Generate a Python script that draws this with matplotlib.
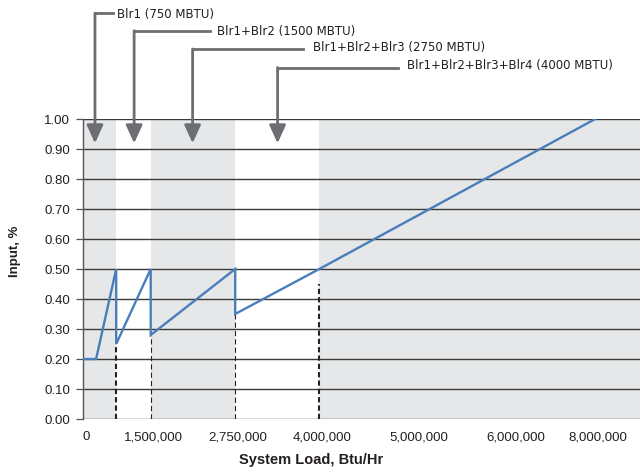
import numpy as np
import matplotlib
matplotlib.use("Agg")
import matplotlib.pyplot as plt
from matplotlib import transforms
from matplotlib.lines import Line2D
from matplotlib.patches import FancyArrowPatch

plt.rcParams['font.family'] = ['Liberation Sans', 'DejaVu Sans']

# --- data ---
load = [0, 300000, 750000, 750000, 1500000, 1500000, 2750000, 2750000, 4000000, 8000000]
input_frac = [0.20, 0.20, 0.50, 0.25, 0.50, 0.28, 0.50, 0.35, 0.50, 1.00]

stage_loads = [750000, 1500000, 2750000, 4000000]
stage_marker_top = [0.24, 0.28, 0.35, 0.45]
stage_heavy = [True, False, False, True]

stage_labels = ['Blr1 (750 MBTU)', 'Blr1+Blr2 (1500 MBTU)',
                'Blr1+Blr2+Blr3 (2750 MBTU)', 'Blr1+Blr2+Blr3+Blr4 (4000 MBTU)']
arrow_loads = [275000, 1140000, 2120000, 3380000]

shaded = [(0, 750000), (1500000, 2750000), (4000000, 9000000)]

x_ticks = [0, 1500000, 2750000, 4000000, 5000000, 6000000, 8000000]
x_tick_labels = ['0', '1,500,000', '2,750,000', '4,000,000', '5,000,000', '6,000,000', '8,000,000']
y_ticks = [0.0, 0.1, 0.2, 0.3, 0.4, 0.5, 0.6, 0.7, 0.8, 0.9, 1.0]

# the original axis is hand-spaced, not linear: piecewise mapping load -> px
scale_loads = [0, 750000, 1500000, 2750000, 4000000, 5000000, 6000000, 8000000, 9000000]
scale_pos = [0, 33.5, 68, 152.5, 236.6, 333.3, 430.3, 512.5, 557.3]


def fwd(x):
    return np.interp(x, scale_loads, scale_pos)


def inv(p):
    return np.interp(p, scale_pos, scale_loads)


W, H = 640, 472
fig = plt.figure(figsize=(W / 100, H / 100), dpi=100)
ax = fig.add_axes([82.7 / W, (H - 419) / H, (W - 82.7) / W, 300 / H])
ax.set_xscale('function', functions=(fwd, inv))
ax.set_xlim(0, 9000000)
ax.set_ylim(0, 1.0)

gray_fill = '#e6e7e8'
for a, b in shaded:
    ax.axvspan(a, b, color=gray_fill, lw=0, zorder=0)

for yv in y_ticks:
    ax.axhline(yv, color='#3a3a3a', lw=1.0, zorder=1)

for xl, top, heavy in zip(stage_loads, stage_marker_top, stage_heavy):
    ax.plot([xl, xl], [0, top], color='#222222', lw=1.5 if heavy else 0.8,
            ls=(0, (2.5, 1.5)) if heavy else (0, (4.7, 2.8)), zorder=2)

ax.plot(load, input_frac, color='#4a7ebb', lw=1.7, zorder=3, solid_joinstyle='miter')

for s in ['top', 'right', 'bottom']:
    ax.spines[s].set_visible(False)
ax.spines['left'].set_color('#555555')
ax.spines['left'].set_linewidth(1.0)

ax.set_yticks(y_ticks)
ax.set_yticklabels([f'{v:.2f}' for v in y_ticks])
ax.tick_params(axis='y', length=5, width=0.9, color='#555555', pad=4,
               labelsize=9.5, labelcolor='#231f20')
ax.set_xticks(x_ticks)
ax.set_xticklabels(x_tick_labels)
ax.tick_params(axis='x', length=0, pad=9, labelsize=9.5, labelcolor='#231f20')
ax.xaxis.set_minor_locator(matplotlib.ticker.NullLocator())
shift = transforms.ScaledTranslation(3 / 100, 0, fig.dpi_scale_trans)
for lab in ax.get_xticklabels():
    lab.set_transform(lab.get_transform() + shift)

ax.set_xlabel('System Load, Btu/Hr', fontsize=10.5, fontweight='bold', color='#231f20')
ax.xaxis.set_label_coords((311 - 82.7) / 557.3, (419 - 460) / 300)
ax.xaxis.label.set_va('center')
ax.set_ylabel('Input, %', fontsize=9.5, fontweight='bold', color='#231f20')
ax.yaxis.set_label_coords((15 - 82.7) / 557.3, (419 - 251) / 300)
ax.yaxis.label.set_va('center')

# --- leader arrows, laid out in pixel coordinates (y from top) ---
px = transforms.Affine2D().scale(1 / W, -1 / H).translate(0, 1) + fig.transFigure
leader_y = [13.3, 30.7, 49.0, 67.5]
leader_end = [113, 210, 303, 398]
text_x = [116.7, 216.7, 313, 406.7]
text_y = [14.3, 31.5, 47.5, 66.0]
tip_y = 143.3
lead_col = '#6d6e71'

for xl, ly, le, tx, ty, lab in zip(arrow_loads, leader_y, leader_end, text_x, text_y, stage_labels):
    xp = ax.transData.transform((xl, 0))[0]
    fig.add_artist(Line2D([xp, le], [ly, ly], transform=px, color=lead_col, lw=2,
                          solid_capstyle='projecting'))
    fig.add_artist(FancyArrowPatch((xp, ly), (xp, tip_y), transform=px,
                                   arrowstyle='-|>,head_length=1.1,head_width=0.5',
                                   mutation_scale=10, color=lead_col, lw=2,
                                   shrinkA=0, shrinkB=0, zorder=5))
    fig.text(tx, ty, lab, transform=px, ha='left', va='center', fontsize=8.5,
             family='DejaVu Sans', color='#231f20')

fig.savefig('out.png', dpi=100)
